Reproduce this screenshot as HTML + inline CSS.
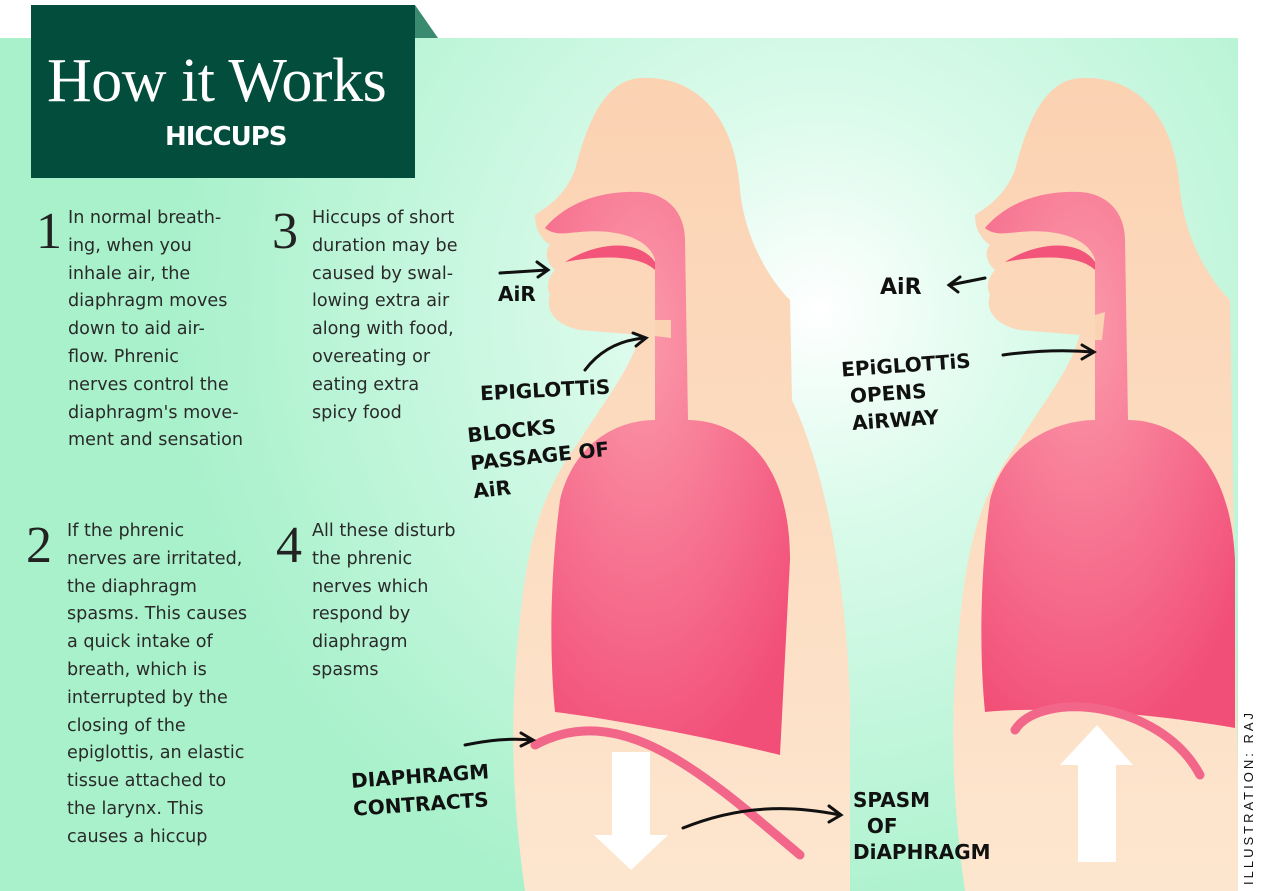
<!DOCTYPE html>
<html><head><meta charset="utf-8"><style>
body{margin:0;width:1263px;height:891px;overflow:hidden;background:#fff;position:relative;font-family:"Liberation Sans",sans-serif}
.t{position:absolute;font-family:"DejaVu Sans",sans-serif;font-size:17.6px;line-height:27.8px;color:#2a2a2a}
.n{position:absolute;font-family:"Liberation Serif",serif;font-size:52px;color:#222;line-height:1}
.h{position:absolute;font-family:"DejaVu Sans",sans-serif;font-weight:bold;color:#111;font-size:20px;letter-spacing:0px;line-height:24px}
</style></head><body>
<svg width="1263" height="891" style="position:absolute;left:0;top:0">
<defs>
<radialGradient id="bg" cx="820" cy="310" r="650" gradientUnits="userSpaceOnUse">
<stop offset="0" stop-color="#ffffff"/><stop offset="0.3" stop-color="#dcfbec"/><stop offset="1" stop-color="#a8f1cb"/></radialGradient>
<radialGradient id="lg" cx="0.4" cy="0.25" r="0.8"><stop offset="0" stop-color="#fb9aab"/><stop offset="1" stop-color="#f24f78"/></radialGradient>
<linearGradient id="sk" x1="0" y1="0" x2="0" y2="1"><stop offset="0" stop-color="#fbd2b2"/><stop offset="1" stop-color="#fde6cf"/></linearGradient>
</defs>
<rect x="0" y="38" width="1238" height="853" fill="url(#bg)"/>
<polygon points="415,5 438,38 415,38" fill="#3a8a70"/>
<g id="f1">
<path d="M640,78 C700,75 735,120 740,190 C745,240 770,280 790,300 L792,400 C820,460 845,560 850,700 L850,891 L525,891 C512,800 510,720 518,640 C525,560 535,500 580,440 C605,400 630,370 640,335 L580,330 C555,325 545,310 550,295 C545,285 550,275 555,270 C545,262 545,250 550,245 C540,238 535,228 535,215 C550,205 565,195 575,170 C590,110 610,80 640,78 Z" fill="url(#sk)"/>
<path d="M545,228 C560,210 590,190 640,192 C670,194 685,215 685,240 L688,420 C730,420 790,450 790,560 L780,755 C720,740 620,720 555,712 C548,640 552,560 560,500 C575,440 620,420 655,420 L655,260 C650,240 620,228 580,232 C565,233 555,236 545,228 Z" fill="url(#lg)"/>
<path d="M565,262 C600,240 640,240 655,262 L655,270 C640,255 600,255 565,262 Z" fill="#f2547a"/>
<path d="M655,320 L671,320 L671,338 L655,336 Z" fill="#fbd2b2"/>
<path d="M535,745 C620,700 700,770 800,855" stroke="#f2668a" stroke-width="9" fill="none" stroke-linecap="round"/>
</g>
<g transform="translate(440,0)">
<path d="M640,78 C700,75 735,120 740,190 C745,240 770,280 790,300 L800,891 L525,891 C512,800 510,720 518,640 C525,560 535,500 580,440 C605,400 630,370 640,335 L580,330 C555,325 545,310 550,295 C545,285 550,275 555,270 C545,262 545,250 550,245 C540,238 535,228 535,215 C550,205 565,195 575,170 C590,110 610,80 640,78 Z" fill="url(#sk)"/>
<path d="M545,228 C560,210 590,190 640,192 C670,194 685,215 685,240 L688,420 C730,420 790,450 795,560 L795,728 C720,715 620,705 545,712 C538,640 542,560 550,500 C565,440 620,420 655,420 L655,260 C650,240 620,228 580,232 C565,233 555,236 545,228 Z" fill="url(#lg)"/>
<path d="M565,262 C600,240 640,240 655,262 L655,270 C640,255 600,255 565,262 Z" fill="#f2547a"/>
<path d="M655,315 L665,312 L662,340 L655,340 Z" fill="#fbd2b2"/>
<path d="M575,730 C600,690 720,700 760,775" stroke="#f2668a" stroke-width="9" fill="none" stroke-linecap="round"/>
</g>
<rect x="1238" y="38" width="25" height="853" fill="#fff"/>
<polygon points="612,752 650,752 650,835 668,835 631,870 594,835 612,835" fill="#fff"/>
<polygon points="1078,862 1116,862 1116,765 1133,765 1097,725 1060,765 1078,765" fill="#fff"/>
<g stroke="#111" stroke-width="3" fill="none" stroke-linecap="round">
<path d="M500,273 L547,270 M537,262 L548,270 L538,277"/>
<path d="M585,370 C600,350 620,340 645,338 M633,333 L646,338 L636,346"/>
<path d="M465,745 C490,740 510,738 532,740 M521,733 L533,740 L521,746"/>
<path d="M683,828 C740,805 790,805 840,815 M829,806 L841,815 L829,822"/>
<path d="M985,278 L950,285 M960,277 L949,285 L958,292"/>
<path d="M1003,355 C1040,350 1070,350 1093,352 M1082,345 L1094,352 L1082,359"/>
</g>
</svg>
<div style="position:absolute;left:31px;top:5px;width:384px;height:173px;background:#024d3c"></div>
<div style="position:absolute;left:47px;top:50px;font-family:'Liberation Serif',serif;font-size:62px;color:#fff;line-height:1;letter-spacing:-0.5px">How it Works</div>
<div style="position:absolute;left:165px;top:122px;font-weight:bold;font-size:26px;color:#fff;font-family:'DejaVu Sans',sans-serif;letter-spacing:-1px">HICCUPS</div>
<div class="n" style="left:36px;top:206px">1</div>
<div class="t" style="left:68px;top:205px">In normal breath-<br>ing, when you<br>inhale air, the<br>diaphragm moves<br>down to aid air-<br>flow. Phrenic<br>nerves control the<br>diaphragm's move-<br>ment and sensation</div>
<div class="n" style="left:272px;top:206px">3</div>
<div class="t" style="left:312px;top:205px">Hiccups of short<br>duration may be<br>caused by swal-<br>lowing extra air<br>along with food,<br>overeating or<br>eating extra<br>spicy food</div>
<div class="n" style="left:26px;top:520px">2</div>
<div class="t" style="left:67px;top:518px">If the phrenic<br>nerves are irritated,<br>the diaphragm<br>spasms. This causes<br>a quick intake of<br>breath, which is<br>interrupted by the<br>closing of the<br>epiglottis, an elastic<br>tissue attached to<br>the larynx. This<br>causes a hiccup</div>
<div class="n" style="left:276px;top:520px">4</div>
<div class="t" style="left:312px;top:518px">All these disturb<br>the phrenic<br>nerves which<br>respond by<br>diaphragm<br>spasms</div>
<div class="h" style="left:498px;top:282px">AiR</div>
<div class="h" style="left:480px;top:378px;transform:rotate(-3deg)">EPIGLOTTiS</div>
<div class="h" style="left:470px;top:414px;line-height:28px;transform:rotate(-6deg)">BLOCKS<br>PASSAGE OF<br>AiR</div>
<div class="h" style="left:352px;top:762px;line-height:28px;transform:rotate(-4deg)">DIAPHRAGM<br>CONTRACTS</div>
<div class="h" style="left:853px;top:787px;line-height:26px">SPASM<br>&nbsp;&nbsp;OF<br>DiAPHRAGM</div>
<div class="h" style="left:880px;top:276px;font-size:22px">AiR</div>
<div class="h" style="left:843px;top:352px;line-height:27px;transform:rotate(-4deg)">EPiGLOTTiS<br>&nbsp;OPENS<br>&nbsp;AiRWAY</div>
<div style="position:absolute;left:1241px;top:885px;transform:rotate(-90deg);transform-origin:0 0;font-size:13px;letter-spacing:3px;color:#111;white-space:nowrap;width:200px">ILLUSTRATION: RAJ</div>
</body></html>
